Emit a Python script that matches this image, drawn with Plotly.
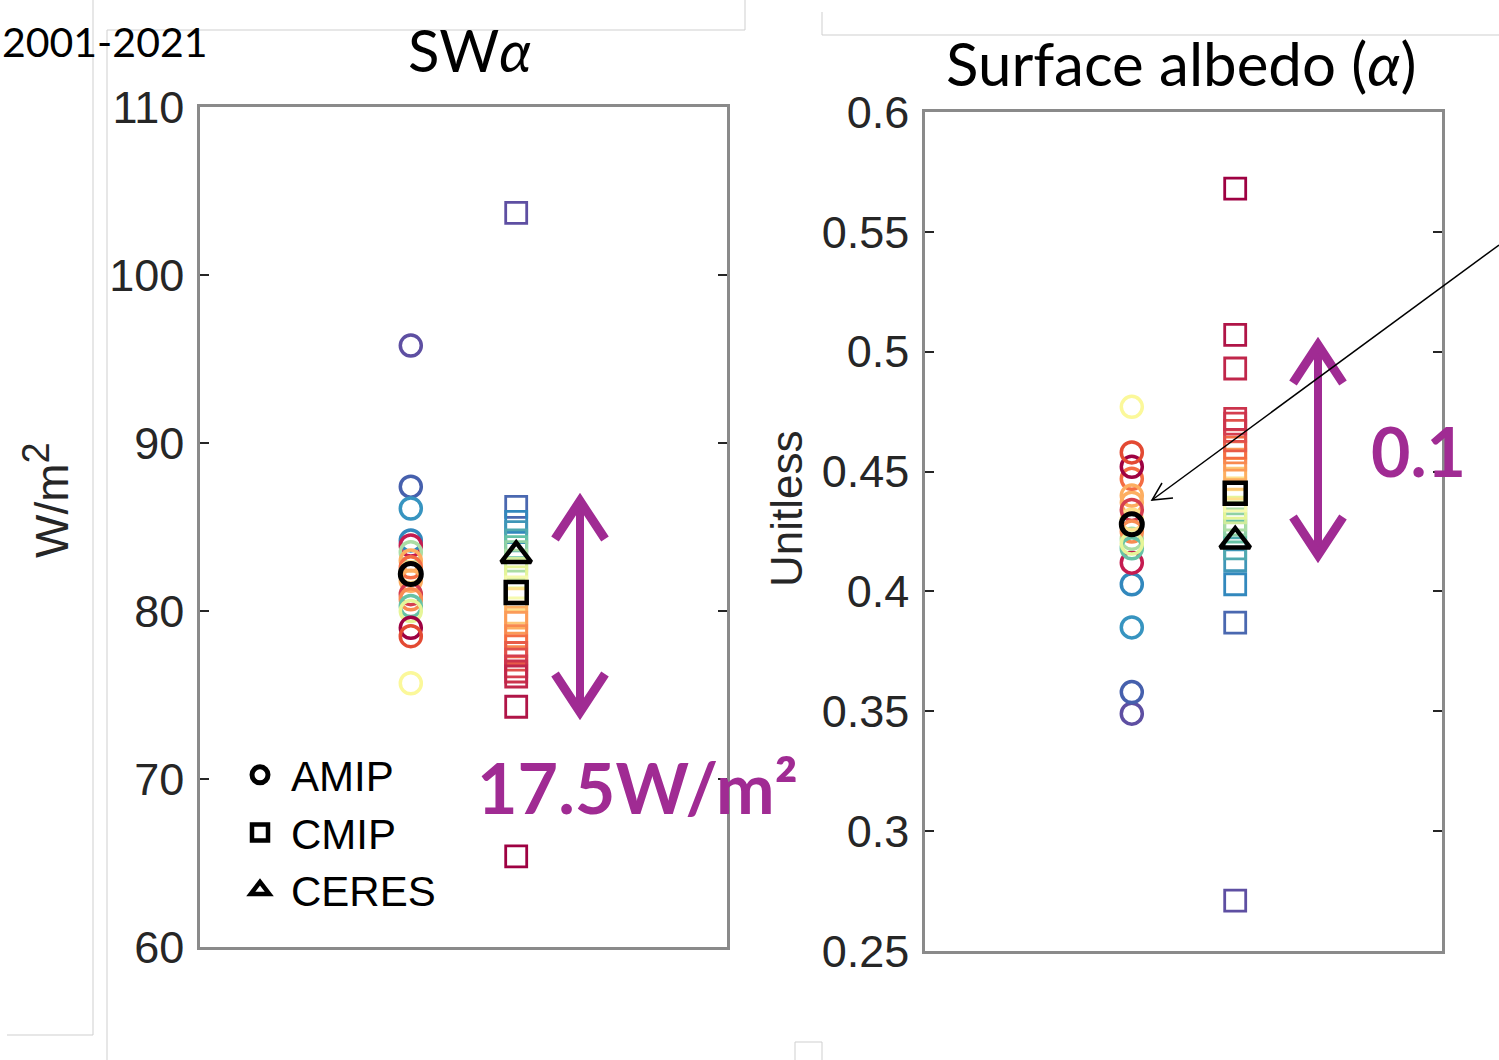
import plotly.graph_objects as go

# ---------------- data ----------------
GROUPS = ["AMIP", "CMIP"]

# AMIP models (same model order in both panels)
amip_sw = [95.8, 87.4, 86.1, 84.2, 83.9, 83.5, 83.0, 82.6, 82.3, 81.8, 81.0, 80.7,
           80.3, 80.0, 79.0, 78.5, 75.7]
amip_alb = [0.349, 0.358, 0.385, 0.403, 0.412, 0.422, 0.437, 0.447, 0.430, 0.440,
            0.434, 0.425, 0.418, 0.420, 0.452, 0.458, 0.477]
amip_colors = ["#5e4fa2", "#4660ad", "#3794c0", "#3288bd", "#c51b50", "#abdda4",
               "#fdae61", "#f46d43", "#fee08b", "#fdae61", "#d53e4f", "#f88d52",
               "#66c2a5", "#e6f598", "#9e0142", "#e34a33", "#fbf89a"]

# CMIP models
cmip_sw = [103.7, 86.2, 85.3, 84.7, 84.2, 83.8, 83.5, 83.0, 82.5, 82.0, 81.4, 80.7,
           79.9, 79.6, 79.3, 78.5, 77.9, 77.5, 77.1, 76.7, 76.4, 76.1, 74.3, 65.4]
cmip_alb = [0.271, 0.387, 0.403, 0.413, 0.418, 0.425, 0.428, 0.430, 0.433, 0.435,
            0.438, 0.443, 0.447, 0.451, 0.455, 0.458, 0.460, 0.463, 0.467, 0.470,
            0.472, 0.493, 0.507, 0.568]
cmip_colors = ["#5e4fa2", "#4a68b0", "#3288bd", "#3f96b7", "#4fa9af", "#66c2a5",
               "#8fd1a4", "#abdda4", "#d0ec9c", "#e6f598", "#f6faaf", "#fee08b",
               "#fdc877", "#fdae61", "#fb9b58", "#f88950", "#f46d43", "#e85b48",
               "#e0504b", "#d53e4f", "#cb334c", "#c0264a", "#b01547", "#9e0142"]

# multi-model means and observations
amip_mean = [82.2, 0.428]
cmip_mean = [81.1, 0.441]
ceres_obs = [83.3, 0.421]

sw_ticks = [60, 70, 80, 90, 100, 110]
alb_ticks = [0.25, 0.3, 0.35, 0.4, 0.45, 0.5, 0.55, 0.6]
alb_ticktext = ["0.25", "0.3", "0.35", "0.4", "0.45", "0.5", "0.55", "0.6"]

# ---------------- layout helpers ----------------
W, H = 1499, 1060
def PX(x): return x / W
def PY(y): return 1 - y / H

PURPLE = "#A02B93"
TICKC = "#262626"
AXC = "#8a8a8a"
TICKFONT = dict(family="Liberation Sans, Arial", size=45, color=TICKC)

fig = go.Figure()

panels = [
    dict(xa="x", ya="y", sw=True),
    dict(xa="x2", ya="y2", sw=False),
]

for i, p in enumerate(panels):
    a_vals = amip_sw if p["sw"] else amip_alb
    c_vals = cmip_sw if p["sw"] else cmip_alb
    k = 0 if p["sw"] else 1
    fig.add_trace(go.Scatter(
        x=[GROUPS[0]] * len(a_vals), y=a_vals, mode="markers", showlegend=False,
        marker=dict(symbol="circle-open", color=amip_colors, size=21, line=dict(width=3.5)),
        xaxis=p["xa"], yaxis=p["ya"]))
    fig.add_trace(go.Scatter(
        x=[GROUPS[1]] * len(c_vals), y=c_vals, mode="markers", showlegend=False,
        marker=dict(symbol="square-open", color=cmip_colors, size=21, line=dict(width=2.8)),
        xaxis=p["xa"], yaxis=p["ya"]))
    fig.add_trace(go.Scatter(
        x=[GROUPS[0]], y=[amip_mean[k]], mode="markers", name="AMIP",
        showlegend=(i == 0),
        marker=dict(symbol="circle-open", color="black", size=21, line=dict(width=5)),
        xaxis=p["xa"], yaxis=p["ya"]))
    fig.add_trace(go.Scatter(
        x=[GROUPS[1]], y=[cmip_mean[k]], mode="markers", name="CMIP",
        showlegend=(i == 0),
        marker=dict(symbol="square-open", color="black", size=21, line=dict(width=4.5)),
        xaxis=p["xa"], yaxis=p["ya"]))
    fig.add_trace(go.Scatter(
        x=[GROUPS[1]], y=[ceres_obs[k]], mode="markers", name="CERES",
        showlegend=(i == 0),
        marker=dict(symbol="triangle-up-open", color="black", size=26, line=dict(width=4.5)),
        xaxis=p["xa"], yaxis=p["ya"]))

xcommon = dict(type="category", categoryorder="array", categoryarray=GROUPS,
               range=[-2, 3], showticklabels=False, ticks="", showgrid=False,
               zeroline=False, showline=True, linecolor=AXC, linewidth=2.5, mirror=True,
               automargin=False)
ycommon = dict(showgrid=False, zeroline=False, showline=True, linecolor=AXC,
               linewidth=2.5, mirror="ticks", ticks="inside", ticklen=9, tickwidth=1.5,
               tickcolor=TICKC, tickfont=TICKFONT, ticklabelstandoff=4, automargin=False)

fig.update_layout(
    width=W, height=H, margin=dict(l=0, r=0, t=0, b=0, pad=0, autoexpand=False),
    paper_bgcolor="white", plot_bgcolor="white",
    xaxis=dict(domain=[PX(200), PX(727)], anchor="y", **xcommon),
    yaxis=dict(domain=[PY(947), PY(107)], anchor="x", range=[60, 110],
               tickvals=sw_ticks, **ycommon),
    xaxis2=dict(domain=[PX(925), PX(1442)], anchor="y2", **xcommon),
    yaxis2=dict(domain=[PY(951), PY(112)], anchor="x2", range=[0.25, 0.6],
                tickvals=alb_ticks, ticktext=alb_ticktext, **ycommon),
    legend=dict(x=PX(229), y=PY(741), xanchor="left", yanchor="top",
                bgcolor="rgba(0,0,0,0)", itemwidth=52, borderwidth=0,
                font=dict(family="Liberation Sans, Arial", size=42, color="black")),
    showlegend=True,
)

# ---------------- text ----------------
def ann(text, x, y, size, family="Lato", color="black", xanchor="center",
        textangle=0, weight="normal"):
    fig.add_annotation(text=text, x=PX(x), y=PY(y), xref="paper", yref="paper",
                       showarrow=False, xanchor=xanchor, yanchor="middle",
                       textangle=textangle, borderpad=0,
                       font=dict(family=family, size=size, color=color, weight=weight))

ann("2001-2021", 1, 42, 41, xanchor="left")
ann("SW<i>α</i>", 470, 50, 58)
ann("Surface albedo (<i>α</i>)", 1181, 63, 60)
ann("W/m<sup><span style='font-size:38px'>2</span></sup>", 46, 500, 46,
    family="Liberation Sans, Arial", color=TICKC, textangle=-90)
ann("Unitless", 786, 508, 44, family="Liberation Sans, Arial", color=TICKC, textangle=-90)
ann("17.5W/m²", 637, 787, 70, color=PURPLE, weight="bold")
ann("0.1", 1418, 450, 68, color=PURPLE, weight="bold")

# ---------------- decorations (arrows, slide frame lines) ----------------
def line(x0, y0, x1, y1, color, width):
    fig.add_shape(type="line", xref="paper", yref="paper",
                  x0=PX(x0), y0=PY(y0), x1=PX(x1), y1=PY(y1),
                  line=dict(color=color, width=width))

def path(pts, color, width):
    d = "M " + " L ".join(f"{PX(x)},{PY(y)}" for x, y in pts)
    fig.add_shape(type="path", xref="paper", yref="paper", path=d,
                  line=dict(color=color, width=width))

def double_arrow(x, ytop, ybot):
    line(x, ytop + 6, x, ybot - 6, PURPLE, 8)
    path([(x - 25, ytop + 42), (x, ytop + 4), (x + 25, ytop + 42)], PURPLE, 9)
    path([(x - 25, ybot - 42), (x, ybot - 4), (x + 25, ybot - 42)], PURPLE, 9)

double_arrow(580, 497, 716)
double_arrow(1318, 341, 559)

# thin black pointer arrow
line(1499, 245, 1152, 500, "black", 1.5)
path([(1162, 483), (1152, 500), (1173, 498)], "black", 1.5)

FR = "#cfcfcf"
line(93, 0, 93, 1035, FR, 1)
line(7, 1035, 93, 1035, FR, 1)
line(107, 30, 107, 1060, FR, 1)
line(107, 30, 745, 30, FR, 1)
line(745, 0, 745, 30, FR, 1)
line(822, 12, 822, 35, FR, 1)
line(822, 35, 1499, 35, FR, 1)
line(795, 1042, 822, 1042, FR, 1)
line(795, 1042, 795, 1060, FR, 1)
line(822, 1042, 822, 1060, FR, 1)

# remove the default page margin so the figure fills the window exactly
fig.write_html("out.html", config={"displayModeBar": False},
               post_script="document.body.style.margin='0';document.body.style.overflow='hidden';")
